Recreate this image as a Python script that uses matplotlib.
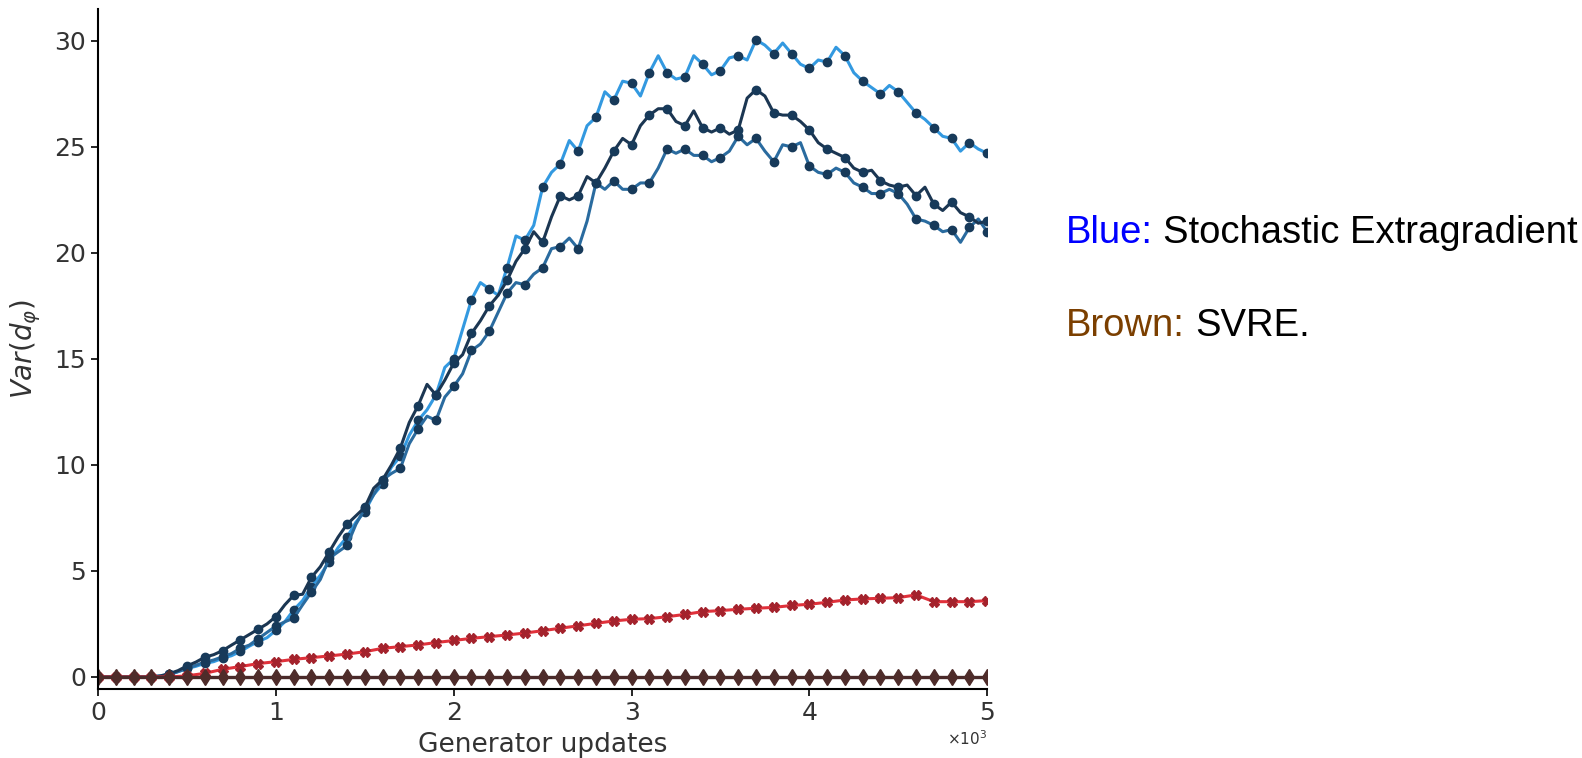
import numpy as np
import matplotlib
matplotlib.use('Agg')
import matplotlib.pyplot as plt
from matplotlib.ticker import ScalarFormatter

# generator updates (50-step grid for the extragradient runs, 100-step for the rest)
steps_fine = np.arange(0, 5001, 50)
steps = np.arange(0, 5001, 100)

# stochastic extragradient, three seeds
seg_light = [0, 0, 0, 0, 0, 0, 0.02, 0.05, 0.12, 0.25,
             0.4, 0.5, 0.64, 0.72, 0.88, 1.0, 1.2, 1.45, 1.67, 1.85,
             2.2, 2.6, 3.16, 3.6, 4.26, 4.8, 5.44, 6.1, 6.6, 7.3,
             7.8, 8.6, 9.1, 9.9, 10.4, 11.4, 12.1, 12.6, 13.3, 14.6,
             15.0, 16.4, 17.8, 18.6, 18.3, 18.0, 19.3, 20.8, 20.6, 21.3,
             23.1, 23.8, 24.2, 25.3, 24.8, 26.0, 26.4, 27.6, 27.2, 28.1,
             28.0, 27.4, 28.5, 29.3, 28.5, 28.2, 28.3, 29.3, 28.9, 28.4,
             28.6, 29.2, 29.3, 29.1, 30.05, 29.8, 29.4, 29.9, 29.4, 28.9,
             28.7, 29.1, 29.0, 29.7, 29.3, 28.5, 28.1, 27.8, 27.5, 27.9,
             27.6, 27.1, 26.6, 26.3, 25.9, 25.5, 25.4, 24.8, 25.2, 24.9,
             24.7]
seg_mid = [0, 0, 0, 0, 0, 0, 0, 0, 0.1, 0.25,
           0.4, 0.55, 0.7, 0.8, 0.95, 1.1, 1.35, 1.5, 1.8, 2.1,
           2.4, 2.6, 2.77, 3.4, 4.0, 4.6, 5.6, 5.9, 6.2, 7.2,
           7.95, 8.6, 9.3, 9.6, 9.84, 11.0, 11.7, 12.3, 12.1, 13.2,
           13.7, 14.3, 15.4, 15.7, 16.3, 17.2, 18.1, 18.6, 18.5, 19.0,
           19.3, 20.2, 20.3, 20.7, 20.2, 21.5, 23.3, 23.0, 23.4, 23.0,
           23.0, 23.3, 23.3, 24.0, 24.9, 24.7, 24.9, 24.6, 24.6, 24.3,
           24.5, 24.8, 25.5, 25.1, 25.4, 24.8, 24.3, 25.1, 25.0, 25.2,
           24.1, 23.8, 23.7, 24.0, 23.8, 23.3, 23.1, 22.8, 22.8, 23.0,
           22.8, 22.3, 21.6, 21.5, 21.3, 21.0, 21.1, 20.5, 21.2, 21.6,
           21.0]
seg_dark = [0, 0, 0, 0, 0, 0, 0, 0.05, 0.15, 0.3,
            0.52, 0.7, 0.93, 1.05, 1.24, 1.5, 1.75, 2.0, 2.25, 2.5,
            2.85, 3.4, 3.85, 3.9, 4.7, 5.2, 5.9, 6.6, 7.2, 7.6,
            8.0, 8.9, 9.3, 10.0, 10.8, 12.0, 12.8, 13.8, 13.3, 14.0,
            14.8, 15.2, 16.2, 16.8, 17.5, 18.0, 18.7, 19.6, 20.2, 21.0,
            20.5, 21.7, 22.7, 22.5, 22.7, 23.6, 23.3, 24.0, 24.8, 25.4,
            25.1, 26.0, 26.5, 26.8, 26.8, 26.2, 26.0, 26.7, 25.9, 25.7,
            25.9, 25.6, 25.8, 27.3, 27.7, 27.4, 26.6, 26.5, 26.5, 26.2,
            25.8, 25.2, 24.9, 24.7, 24.5, 24.0, 23.8, 23.9, 23.4, 23.2,
            23.1, 23.2, 22.7, 23.1, 22.3, 22.0, 22.4, 21.9, 21.7, 21.4,
            21.5]

# SVRE runs
svre_red = [0, 0, 0, 0, 0, 0.05, 0.17, 0.36, 0.49, 0.63,
            0.72, 0.83, 0.91, 0.99, 1.08, 1.19, 1.35, 1.43, 1.51, 1.62,
            1.72, 1.82, 1.90, 1.98, 2.07, 2.18, 2.30, 2.41, 2.53, 2.64,
            2.72, 2.75, 2.84, 2.95, 3.08, 3.13, 3.19, 3.24, 3.28, 3.37,
            3.43, 3.52, 3.63, 3.68, 3.71, 3.74, 3.87, 3.55, 3.55, 3.55,
            3.6]
svre_brown = [0.0] * 51

fig = plt.figure(figsize=(15.82, 7.58), dpi=100)
ax = fig.add_axes([0.062, 0.091, 0.562, 0.897])

dot = dict(marker='o', markersize=6, markerfacecolor='#173a5a',
           markeredgecolor='#173a5a', markevery=2, lw=2.2)
ax.plot(steps_fine, seg_light, color='#3399e0', **dot)
ax.plot(steps_fine, seg_mid, color='#2a6b9f', **dot)
ax.plot(steps_fine, seg_dark, color='#1b3652', **dot)
ax.plot(steps, svre_red, color='#e0313b', lw=2.2, marker='X', markersize=7,
        markerfacecolor='#a3222c', markeredgecolor='#a3222c')
ax.plot(steps, svre_brown, color='#4a2a2a', lw=2.4, marker='d', markersize=8,
        markerfacecolor='#4e2c2a', markeredgecolor='#4e2c2a')

ax.set_xlim(0, 5000)
ax.set_ylim(-0.57, 31.5)
ax.set_yticks([0, 5, 10, 15, 20, 25, 30])
ax.set_xticks([0, 1000, 2000, 3000, 4000, 5000])

fmt = ScalarFormatter(useMathText=True)
fmt.set_powerlimits((3, 3))
ax.xaxis.set_major_formatter(fmt)
ax.xaxis.get_offset_text().set_fontsize(11)
ax.xaxis.get_offset_text().set_color('#333333')

for s in ['top', 'right']:
    ax.spines[s].set_visible(False)
ax.spines['left'].set_linewidth(1.5)
ax.spines['bottom'].set_linewidth(1.5)
ax.tick_params(labelsize=18, labelcolor='#333333', width=1.2, length=5)

ax.set_xlabel('Generator updates', fontsize=19, color='#333333', labelpad=5)
ax.set_ylabel(r'$Var(d_\varphi)$', fontsize=20, color='#333333', labelpad=8)

# annotation on the right, coloured keyword followed by plain text
kw = dict(fontsize=27.5, family='Liberation Sans')
t1 = fig.text(0.674, 0.679, 'Blue:', color='#0000ff', **kw)
fig.gca().annotate('Stochastic Extragradient', xy=(1, 0), xycoords=t1,
                   xytext=(7, 0), textcoords='offset points',
                   va='bottom', color='black', **kw)
t2 = fig.text(0.674, 0.557, 'Brown:', color='#7b3f00', **kw)
fig.gca().annotate('SVRE.', xy=(1, 0), xycoords=t2,
                   xytext=(7, 0), textcoords='offset points',
                   va='bottom', color='black', **kw)

fig.savefig('out.png', dpi=100)
